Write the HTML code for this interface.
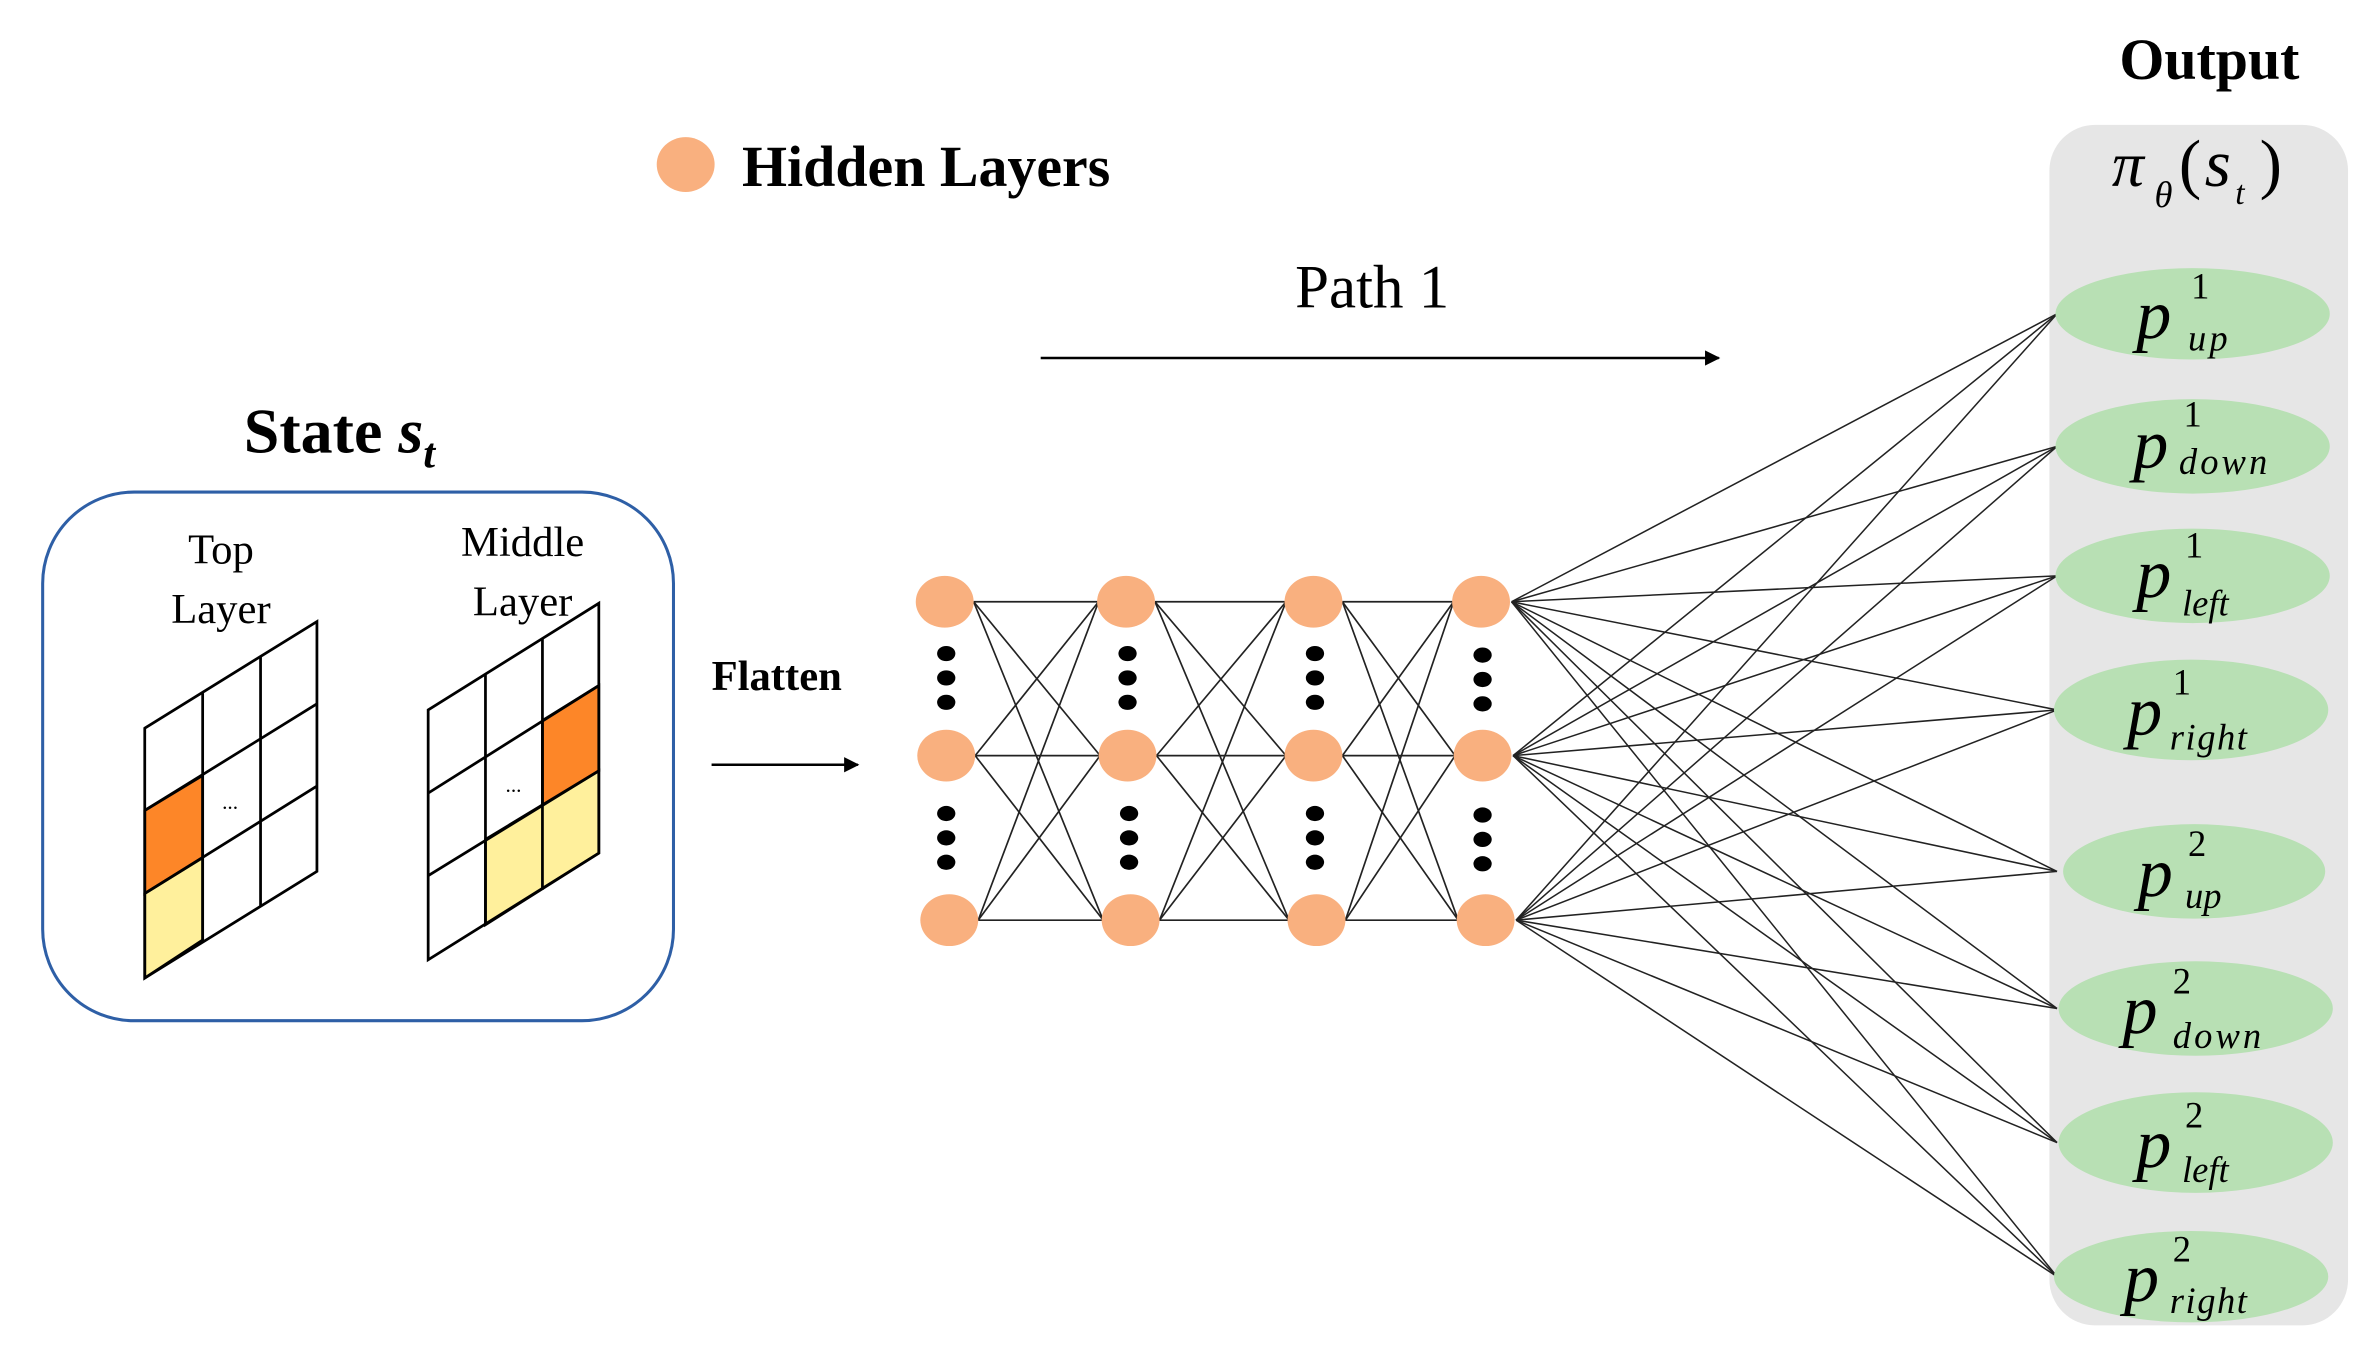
<!DOCTYPE html>
<html><head><meta charset="utf-8"><style>
html,body{margin:0;padding:0;background:#fff;}
svg{display:block;}
text{font-family:"Liberation Serif",serif;}
</style></head><body>
<svg width="2377" height="1365" viewBox="0 0 1560 896" preserveAspectRatio="none" xmlns="http://www.w3.org/2000/svg">
<defs>
<marker id="ah" markerWidth="10" markerHeight="10" refX="9" refY="5" orient="auto" markerUnits="userSpaceOnUse"><path d="M0,0 L10,5 L0,10 z" fill="#000"/></marker>
</defs>
<rect width="1560" height="896" fill="#fff"/>
<!-- legend -->
<ellipse cx="450" cy="108" rx="19" ry="18" fill="#f9b07f"/>
<text x="487" y="122" font-size="38" font-weight="bold">Hidden Layers</text>
<!-- Output -->
<text x="1450" y="52" font-size="38" font-weight="bold" text-anchor="middle">Output</text>
<rect x="1345" y="82" width="196" height="788" rx="30" fill="#e6e6e6"/>
<text x="1386" y="122" font-size="42" font-style="italic">π</text>
<text x="1414" y="136" font-size="24" font-style="italic">θ</text>
<text x="1430" y="122" font-size="44">(</text>
<text x="1447" y="122" font-size="44" font-style="italic">s</text>
<text x="1467" y="134" font-size="22" font-style="italic">t</text>
<text x="1483" y="122" font-size="44">)</text>
<!-- Path 1 -->
<text x="850" y="202" font-size="40">Path 1</text>
<line x1="683" y1="235" x2="1128" y2="235" stroke="#000" stroke-width="1.6" marker-end="url(#ah)"/>
<!-- State -->
<text x="160" y="297" font-size="42" font-weight="bold">State <tspan font-style="italic">s</tspan><tspan font-style="italic" font-size="28" dy="10">t</tspan></text>
<rect x="28" y="323" width="414" height="347" rx="60" fill="none" stroke="#2e5fa6" stroke-width="2"/>
<text x="145" y="370" font-size="28" text-anchor="middle">Top</text>
<text x="145" y="409" font-size="28" text-anchor="middle">Layer</text>
<text x="343" y="365" font-size="28" text-anchor="middle">Middle</text>
<text x="343" y="404" font-size="28" text-anchor="middle">Layer</text>
<!-- grid 1 -->
<g stroke="#000" stroke-width="1.8">
<polygon points="95,532 133,509 133,563 95,586.5" fill="#fd8628"/>
<polygon points="95,586.5 133,563 133,617 95,642" fill="#fff09c"/>
<polygon points="95,478 208,408 208,572 95,642" fill="none"/>
<line x1="133" y1="455" x2="133" y2="617"/>
<line x1="171" y1="431" x2="171" y2="595"/>
<line x1="95" y1="532" x2="208" y2="462"/>
<line x1="95" y1="586.5" x2="208" y2="516"/>
</g>
<text x="151" y="531" font-size="14" text-anchor="middle">...</text>
<!-- grid 2 -->
<g stroke="#000" stroke-width="1.8">
<polygon points="356,473 393,450 393,506 356,529" fill="#fd8628"/>
<polygon points="318.6,551 393,506 393,560 318.6,607" fill="#fff09c"/>
<polygon points="281,466 393,396 393,560 281,630" fill="none"/>
<line x1="318.6" y1="443" x2="318.6" y2="607"/>
<line x1="356" y1="419" x2="356" y2="584"/>
<line x1="281" y1="520.6" x2="393" y2="450"/>
<line x1="281" y1="574.8" x2="393" y2="506"/>
</g>
<text x="337" y="520" font-size="14" text-anchor="middle">...</text>
<!-- Flatten -->
<text x="467" y="453" font-size="28" font-weight="bold">Flatten</text>
<line x1="467" y1="502" x2="563" y2="502" stroke="#000" stroke-width="1.6" marker-end="url(#ah)"/>
<!-- connections -->
<g stroke="#222" stroke-width="1.1">
<line x1="639" y1="395" x2="721" y2="395"/><line x1="639" y1="395" x2="722" y2="496"/><line x1="639" y1="395" x2="724" y2="604"/>
<line x1="640" y1="496" x2="721" y2="395"/><line x1="640" y1="496" x2="722" y2="496"/><line x1="640" y1="496" x2="724" y2="604"/>
<line x1="642" y1="604" x2="721" y2="395"/><line x1="642" y1="604" x2="722" y2="496"/><line x1="642" y1="604" x2="724" y2="604"/>
<line x1="758" y1="395" x2="844" y2="395"/><line x1="758" y1="395" x2="844" y2="496"/><line x1="758" y1="395" x2="846" y2="604"/>
<line x1="759" y1="496" x2="844" y2="395"/><line x1="759" y1="496" x2="844" y2="496"/><line x1="759" y1="496" x2="846" y2="604"/>
<line x1="761" y1="604" x2="844" y2="395"/><line x1="761" y1="604" x2="844" y2="496"/><line x1="761" y1="604" x2="846" y2="604"/>
<line x1="881" y1="395" x2="954" y2="395"/><line x1="881" y1="395" x2="955" y2="496"/><line x1="881" y1="395" x2="957" y2="604"/>
<line x1="881" y1="496" x2="954" y2="395"/><line x1="881" y1="496" x2="955" y2="496"/><line x1="881" y1="496" x2="957" y2="604"/>
<line x1="883" y1="604" x2="954" y2="395"/><line x1="883" y1="604" x2="955" y2="496"/><line x1="883" y1="604" x2="957" y2="604"/>
</g>
<g stroke="#222" stroke-width="1">
<line x1="992" y1="395" x2="1350" y2="206"/><line x1="992" y1="395" x2="1350" y2="293"/><line x1="992" y1="395" x2="1350" y2="378"/><line x1="992" y1="395" x2="1350" y2="466"/><line x1="992" y1="395" x2="1350" y2="572"/><line x1="992" y1="395" x2="1350" y2="662"/><line x1="992" y1="395" x2="1350" y2="750"/><line x1="992" y1="395" x2="1350" y2="838"/>
<line x1="993" y1="496" x2="1350" y2="206"/><line x1="993" y1="496" x2="1350" y2="293"/><line x1="993" y1="496" x2="1350" y2="378"/><line x1="993" y1="496" x2="1350" y2="466"/><line x1="993" y1="496" x2="1350" y2="572"/><line x1="993" y1="496" x2="1350" y2="662"/><line x1="993" y1="496" x2="1350" y2="750"/><line x1="993" y1="496" x2="1350" y2="838"/>
<line x1="995" y1="604" x2="1350" y2="206"/><line x1="995" y1="604" x2="1350" y2="293"/><line x1="995" y1="604" x2="1350" y2="378"/><line x1="995" y1="604" x2="1350" y2="466"/><line x1="995" y1="604" x2="1350" y2="572"/><line x1="995" y1="604" x2="1350" y2="662"/><line x1="995" y1="604" x2="1350" y2="750"/><line x1="995" y1="604" x2="1350" y2="838"/>
</g>
<!-- hidden nodes -->
<g fill="#f9b07f">
<ellipse cx="620" cy="395" rx="19" ry="17"/><ellipse cx="621" cy="496" rx="19" ry="17"/><ellipse cx="623" cy="604" rx="19" ry="17"/>
<ellipse cx="739" cy="395" rx="19" ry="17"/><ellipse cx="740" cy="496" rx="19" ry="17"/><ellipse cx="742" cy="604" rx="19" ry="17"/>
<ellipse cx="862" cy="395" rx="19" ry="17"/><ellipse cx="862" cy="496" rx="19" ry="17"/><ellipse cx="864" cy="604" rx="19" ry="17"/>
<ellipse cx="972" cy="395" rx="19" ry="17"/><ellipse cx="973" cy="496" rx="19" ry="17"/><ellipse cx="975" cy="604" rx="19" ry="17"/>
</g>
<g fill="#000">
<ellipse cx="621" cy="429" rx="6" ry="5"/><ellipse cx="621" cy="445" rx="6" ry="5"/><ellipse cx="621" cy="461" rx="6" ry="5"/>
<ellipse cx="621" cy="534" rx="6" ry="5"/><ellipse cx="621" cy="550" rx="6" ry="5"/><ellipse cx="621" cy="566" rx="6" ry="5"/>
<ellipse cx="740" cy="429" rx="6" ry="5"/><ellipse cx="740" cy="445" rx="6" ry="5"/><ellipse cx="740" cy="461" rx="6" ry="5"/>
<ellipse cx="741" cy="534" rx="6" ry="5"/><ellipse cx="741" cy="550" rx="6" ry="5"/><ellipse cx="741" cy="566" rx="6" ry="5"/>
<ellipse cx="863" cy="429" rx="6" ry="5"/><ellipse cx="863" cy="445" rx="6" ry="5"/><ellipse cx="863" cy="461" rx="6" ry="5"/>
<ellipse cx="863" cy="534" rx="6" ry="5"/><ellipse cx="863" cy="550" rx="6" ry="5"/><ellipse cx="863" cy="566" rx="6" ry="5"/>
<ellipse cx="973" cy="430" rx="6" ry="5"/><ellipse cx="973" cy="446" rx="6" ry="5"/><ellipse cx="973" cy="462" rx="6" ry="5"/>
<ellipse cx="973" cy="535" rx="6" ry="5"/><ellipse cx="973" cy="551" rx="6" ry="5"/><ellipse cx="973" cy="567" rx="6" ry="5"/>
</g>
<!-- output nodes -->
<g fill="#b8e0b4">
<ellipse cx="1439" cy="206" rx="90" ry="30"/><ellipse cx="1439" cy="293" rx="90" ry="31"/><ellipse cx="1439" cy="378" rx="90" ry="31"/><ellipse cx="1438" cy="466" rx="90" ry="33"/>
<ellipse cx="1440" cy="572" rx="86" ry="31"/><ellipse cx="1441" cy="662" rx="90" ry="31"/><ellipse cx="1441" cy="750" rx="90" ry="33"/><ellipse cx="1438" cy="838" rx="90" ry="30"/>
</g>
<g font-style="italic">
<text x="1402" y="222" font-size="46">p</text><text x="1438" y="196" font-size="24" font-style="normal">1</text><text x="1436" y="230" font-size="24" letter-spacing="2">up</text>
<text x="1400" y="307" font-size="46">p</text><text x="1433" y="280" font-size="24" font-style="normal">1</text><text x="1430" y="311" font-size="24" letter-spacing="2">down</text>
<text x="1402" y="392" font-size="46">p</text><text x="1434" y="366" font-size="24" font-style="normal">1</text><text x="1432" y="404" font-size="24">left</text>
<text x="1396" y="482" font-size="46">p</text><text x="1426" y="456" font-size="24" font-style="normal">1</text><text x="1424" y="492" font-size="24" letter-spacing="1">right</text>
<text x="1403" y="588" font-size="46">p</text><text x="1436" y="562" font-size="24" font-style="normal">2</text><text x="1434" y="596" font-size="24">up</text>
<text x="1393" y="678" font-size="46">p</text><text x="1426" y="652" font-size="24" font-style="normal">2</text><text x="1426" y="688" font-size="24" letter-spacing="2">down</text>
<text x="1402" y="766" font-size="46">p</text><text x="1434" y="740" font-size="24" font-style="normal">2</text><text x="1432" y="776" font-size="24">left</text>
<text x="1394" y="854" font-size="46">p</text><text x="1426" y="828" font-size="24" font-style="normal">2</text><text x="1424" y="862" font-size="24" letter-spacing="1">right</text>
</g>
</svg>
</body></html>
